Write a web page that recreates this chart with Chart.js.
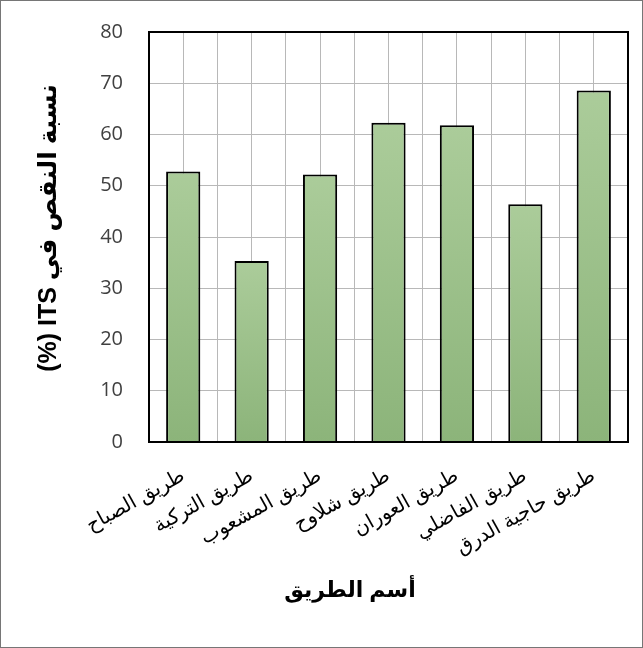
<!DOCTYPE html>
<html lang="ar">
<head>
  <meta charset="UTF-8">
  <title>نسبة النقص في ITS</title>
  <script src="https://cdn.jsdelivr.net/npm/chart.js"></script>
  <style>
    body { margin: 0; background: #fff; }
    .frame { width: 643px; height: 648px; box-sizing: border-box; border: 1px solid #767676; }
    canvas { display: block; }
  </style>
</head>
<body>
  <div class="frame">
    <canvas id="itsChart" width="641" height="646"></canvas>
  </div>

  <script>
    // Road names and the ITS loss ratio (%) for each road
    const roadNames = ['طريق الصباح', 'طريق التركية', 'طريق المشعوب', 'طريق شلاوح', 'طريق العوران', 'طريق الفاضلي', 'طريق حاجية الدرق'];
    const itsLoss = [52.8, 35.3, 52.2, 62.3, 61.8, 46.4, 68.6];
    const yMin = 0;
    const yMax = 80;
    const yStep = 10;

    const yTitle = 'نسبة النقص في ITS (%)';
    const xTitle = 'أسم الطريق';

    const barTop = '#abcc9a';
    const barBottom = '#8cb47a';
    const gridColor = '#b8b8b8';
    const arabicFont = "'Liberation Sans', 'DejaVu Sans', sans-serif";

    // Each bar gets its own light-to-dark gradient, from its top down to zero
    function barGradient(context) {
      const chart = context.chart;
      const yScale = chart.scales.y;
      if (!chart.chartArea || !yScale) return barBottom;
      const top = yScale.getPixelForValue(context.raw);
      const base = yScale.getPixelForValue(0);
      const g = chart.ctx.createLinearGradient(0, top, 0, base);
      g.addColorStop(0, barTop);
      g.addColorStop(1, barBottom);
      return g;
    }

    // Plot frame and axis titles
    const frameAndTitles = {
      id: 'frameAndTitles',
      afterDraw(chart) {
        const { ctx, chartArea } = chart;
        ctx.save();
        ctx.strokeStyle = '#000';
        ctx.lineWidth = 2;
        ctx.strokeRect(chartArea.left, chartArea.top, chartArea.right - chartArea.left, chartArea.bottom - chartArea.top);

        ctx.fillStyle = '#000';
        ctx.direction = 'rtl';
        ctx.textAlign = 'center';
        ctx.textBaseline = 'middle';

        ctx.font = "bold 22px " + arabicFont;
        ctx.fillText(xTitle, 349, 590);

        ctx.translate(48, 227);
        ctx.rotate(-Math.PI / 2);
        ctx.font = "bold 25px " + arabicFont;
        ctx.fillText(yTitle, 0, 0);
        ctx.restore();
      }
    };

    const ctx = document.getElementById('itsChart').getContext('2d');
    new Chart(ctx, {
      type: 'bar',
      data: {
        labels: roadNames,
        datasets: [{
          data: itsLoss,
          backgroundColor: barGradient,
          borderColor: '#000',
          borderWidth: 2,
          barPercentage: 0.5,
          categoryPercentage: 1
        }]
      },
      options: {
        responsive: false,
        animation: false,
        events: [],
        layout: { padding: { top: 31, right: 14, left: 0, bottom: 0 } },
        plugins: {
          legend: { display: false },
          tooltip: { enabled: false }
        },
        scales: {
          x: {
            position: 'bottom',
            grid: { color: gridColor, drawTicks: false, offset: true },
            border: { color: '#000', width: 2 },
            ticks: {
              color: '#000',
              font: { family: arabicFont, size: 20 },
              minRotation: 29,
              maxRotation: 29,
              autoSkip: false,
              padding: 22
            },
            afterFit: (scale) => { scale.height = 205; }
          },
          // second category axis only draws the grid lines through the bar centres
          xMid: {
            type: 'category',
            position: 'top',
            offset: true,
            grid: { color: gridColor, drawTicks: false, offset: false },
            border: { display: false },
            ticks: { display: false },
            afterFit: (scale) => { scale.height = 0; }
          },
          y: {
            min: yMin,
            max: yMax,
            grid: { color: gridColor, drawTicks: false },
            border: { color: '#000', width: 2 },
            ticks: {
              stepSize: yStep,
              color: '#404040',
              font: { family: "'Open Sans', sans-serif", size: 20 },
              padding: 26
            },
            afterFit: (scale) => {
              scale.width = 148;
              // the label padding should not push the plot down
              scale.paddingTop = 0;
              scale.paddingBottom = 0;
            }
          }
        }
      },
      plugins: [frameAndTitles]
    });
  </script>
</body>
</html>
